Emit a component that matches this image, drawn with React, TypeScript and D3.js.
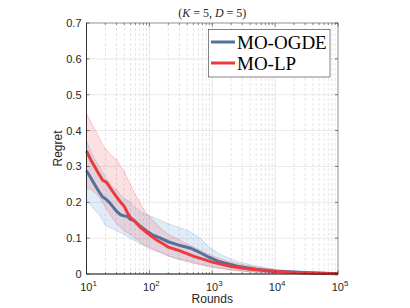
import React from "react";
import * as d3 from "d3";

const redX = [10, 12, 15, 18, 21, 25, 30, 35, 40, 45, 50, 60, 70, 85, 100, 130, 170, 200, 300, 500, 1000, 2000, 4000, 10000, 30000, 100000];
const redMean = [0.343, 0.315, 0.285, 0.262, 0.255, 0.235, 0.215, 0.2, 0.188, 0.17, 0.158, 0.145, 0.132, 0.12, 0.11, 0.095, 0.083, 0.075, 0.065, 0.05, 0.033, 0.021, 0.013, 0.007, 0.003, 0.001];
const redUpper = [0.448, 0.42, 0.39, 0.36, 0.345, 0.33, 0.32, 0.3, 0.285, 0.265, 0.25, 0.22, 0.2, 0.175, 0.16, 0.14, 0.12, 0.11, 0.095, 0.075, 0.05, 0.033, 0.022, 0.012, 0.005, 0.002];
const redLower = [0.24, 0.235, 0.22, 0.2, 0.18, 0.16, 0.14, 0.13, 0.12, 0.115, 0.11, 0.1, 0.09, 0.08, 0.075, 0.065, 0.056, 0.05, 0.04, 0.03, 0.018, 0.011, 0.006, 0.003, 0.001, 0];

const blueX = [10, 12, 14, 16, 18, 20, 23, 27, 30, 35, 40, 45, 50, 56, 70, 90, 110, 150, 200, 300, 450, 635, 900, 1320, 2500, 5000, 10000, 30000, 100000];
const blueMean = [0.288, 0.265, 0.245, 0.228, 0.215, 0.21, 0.2, 0.185, 0.175, 0.165, 0.162, 0.16, 0.152, 0.15, 0.135, 0.12, 0.11, 0.1, 0.09, 0.08, 0.072, 0.06, 0.046, 0.034, 0.022, 0.013, 0.008, 0.004, 0.001];
const blueUpper = [0.37, 0.34, 0.315, 0.3, 0.285, 0.27, 0.255, 0.24, 0.235, 0.22, 0.21, 0.205, 0.2, 0.19, 0.175, 0.165, 0.16, 0.15, 0.14, 0.13, 0.118, 0.1, 0.075, 0.055, 0.035, 0.022, 0.013, 0.006, 0.002];
const blueLower = [0.205, 0.19, 0.175, 0.165, 0.15, 0.135, 0.13, 0.125, 0.12, 0.115, 0.11, 0.105, 0.1, 0.095, 0.085, 0.075, 0.068, 0.06, 0.05, 0.042, 0.035, 0.028, 0.022, 0.016, 0.009, 0.005, 0.003, 0.001, 0];

const yTicks = [0, 0.1, 0.2, 0.3, 0.4, 0.5, 0.6, 0.7];
const xDecades = [1, 2, 3, 4, 5];
const seriesNames = ["MO-OGDE", "MO-LP"];

const W = 410, H = 308;
const L = 86.5, R = 338, T = 23, B = 274;

export default function App() {
  const x = d3.scaleLog().domain([10, 100000]).range([L, R]);
  const y = d3.scaleLinear().domain([0, 0.7]).range([B, T]);

  const minor: number[] = [];
  for (let k = 1; k < 5; k++) for (let m = 2; m <= 9; m++) minor.push(m * Math.pow(10, k));

  const area = (xs: number[], lo: number[], hi: number[]) =>
    d3.area<number>().x((_, i) => x(xs[i])).y0((_, i) => y(lo[i])).y1((_, i) => y(hi[i]))(xs) || "";
  const line = (xs: number[], vs: number[]) =>
    d3.line<number>().x((_, i) => x(xs[i])).y((_, i) => y(vs[i]))(xs) || "";

  const blueC = "#52719c";
  const redC = "#ec3b3f";
  const axisC = "#262626";
  const font = "'Liberation Sans', Arial, sans-serif";

  return (
    <svg width={W} height={H} style={{ position: "absolute", left: 0, top: 0, background: "#fff" }}>
      <rect x={0} y={0} width={W} height={H} fill="#fff" />
      {minor.map((v, i) => (
        <line key={"mg" + i} x1={x(v)} x2={x(v)} y1={T} y2={B} stroke="#d4d4d4" strokeWidth={0.6} strokeDasharray="3,2" />
      ))}
      {xDecades.map((k) => (
        <line key={"xg" + k} x1={x(Math.pow(10, k))} x2={x(Math.pow(10, k))} y1={T} y2={B} stroke="#e0e0e0" strokeWidth={0.8} />
      ))}
      {yTicks.map((v) => (
        <line key={"yg" + v} x1={L} x2={R} y1={y(v)} y2={y(v)} stroke="#e3e3e3" strokeWidth={0.8} />
      ))}
      <path d={area(blueX, blueLower, blueUpper)} fill="rgba(90,150,210,0.18)" stroke="rgba(90,150,210,0.45)" strokeWidth={0.6} />
      <path d={area(redX, redLower, redUpper)} fill="rgba(240,90,100,0.18)" stroke="rgba(240,90,100,0.5)" strokeWidth={0.6} />
      <path d={line(blueX, blueMean)} fill="none" stroke={blueC} strokeWidth={3} />
      <path d={line(redX, redMean)} fill="none" stroke={redC} strokeWidth={3} />
      <rect x={L} y={T} width={R - L} height={B - T} fill="none" stroke={axisC} strokeWidth={0.6} strokeOpacity={0.7} />
      <line x1={L} x2={R} y1={B} y2={B} stroke={axisC} strokeWidth={0.9} />
      <line x1={L} x2={L} y1={T} y2={B} stroke={axisC} strokeWidth={0.9} />
      {yTicks.map((v) => (
        <g key={"yt" + v}>
          <line x1={L} x2={L + 3} y1={y(v)} y2={y(v)} stroke={axisC} strokeWidth={0.6} />
          <line x1={R} x2={R - 3} y1={y(v)} y2={y(v)} stroke={axisC} strokeWidth={0.6} />
          <text x={L - 5} y={y(v) + 4} textAnchor="end" fontFamily={font} fontSize={11} fill={axisC}>
            {v === 0 ? "0" : v.toFixed(1)}
          </text>
        </g>
      ))}
      {minor.map((v, i) => (
        <g key={"mt" + i}>
          <line x1={x(v)} x2={x(v)} y1={B} y2={B - 2} stroke={axisC} strokeWidth={0.5} />
          <line x1={x(v)} x2={x(v)} y1={T} y2={T + 2} stroke={axisC} strokeWidth={0.5} />
        </g>
      ))}
      {xDecades.map((k) => (
        <g key={"xt" + k}>
          <line x1={x(Math.pow(10, k))} x2={x(Math.pow(10, k))} y1={B} y2={B - 3.5} stroke={axisC} strokeWidth={0.6} />
          <line x1={x(Math.pow(10, k))} x2={x(Math.pow(10, k))} y1={T} y2={T + 3.5} stroke={axisC} strokeWidth={0.6} />
          <text x={x(Math.pow(10, k)) + 2} y={291} textAnchor="middle" fontFamily={font} fontSize={11} fill={axisC}>
            10
            <tspan dy={-5} fontSize={8}>{k}</tspan>
          </text>
        </g>
      ))}
      <text x={(L + R) / 2} y={303} textAnchor="middle" fontFamily={font} fontSize={12} fill={axisC}>Rounds</text>
      <text transform={`translate(62,${(T + B) / 2}) rotate(-90)`} textAnchor="middle" fontFamily={font} fontSize={12} fill={axisC}>Regret</text>
      <text x={(L + R) / 2} y={17} textAnchor="middle" fontFamily="'Liberation Serif', 'Times New Roman', serif" fontSize={12} fill={axisC}>
        (<tspan fontStyle="italic">K</tspan> = 5, <tspan fontStyle="italic">D</tspan> = 5)
      </text>
      <rect x={208.5} y={29.5} width={121.5} height={47.5} fill="#fff" stroke="#333" strokeWidth={0.6} />
      {seriesNames.map((name, i) => (
        <g key={name}>
          <line x1={211} x2={235} y1={42 + i * 21} y2={42 + i * 21} stroke={i === 0 ? blueC : redC} strokeWidth={3} />
          <text x={237} y={48.5 + i * 21} fontFamily="'Liberation Serif', 'Times New Roman', serif" fontSize={19} fill="#000">{name}</text>
        </g>
      ))}
    </svg>
  );
}
